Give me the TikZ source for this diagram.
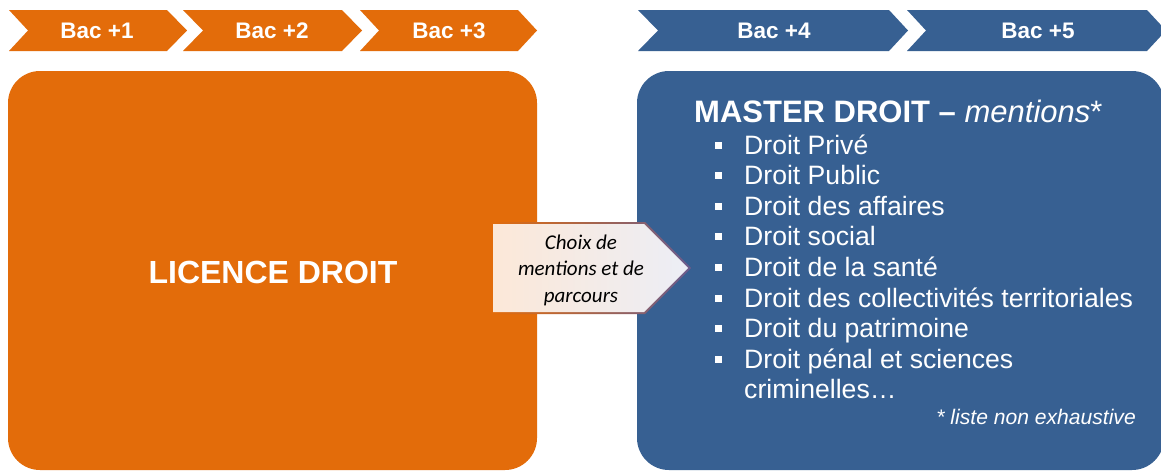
\documentclass[tikz,border=0pt]{standalone}
\usepackage{fontspec}
\setmainfont{Liberation Sans}
\newfontfamily\calfont{Carlito}
\definecolor{orangeM}{HTML}{E36C0A}
\definecolor{blueM}{HTML}{376092}
\definecolor{peach}{HTML}{FCE8D8}
\definecolor{lav}{HTML}{ECEEF6}
\definecolor{bordR}{HTML}{6A5C8E}
\tikzset{
  bactext/.style={text=white, font=\fontsize{22.5}{26}\selectfont\bfseries, inner sep=0pt},
  item/.style={anchor=base west, text=white, font=\fontsize{26.6}{31}\selectfont, inner sep=0pt},
  bul/.style={fill=white, minimum size=7pt, inner sep=0pt, draw=none},
}
\begin{document}
\begin{tikzpicture}[x=1pt,y=-1pt]
\clip (0,0) rectangle (1161,472);
\fill[white] (0,0) rectangle (1161,472);
% chevrons
\fill[orangeM] (9,10) -- (167,10) -- (187,30.5) -- (167,51) -- (9,51) -- (28,30.5) -- cycle;
\fill[orangeM] (183,10) -- (342,10) -- (362,30.5) -- (342,51) -- (183,51) -- (203,30.5) -- cycle;
\fill[orangeM] (360,10) -- (518,10) -- (537,30.5) -- (518,51) -- (360,51) -- (379,30.5) -- cycle;
\fill[blueM] (638,10) -- (889,10) -- (908,30.5) -- (889,51) -- (638,51) -- (658,30.5) -- cycle;
\fill[blueM] (907,10) -- (1147,10) -- (1166,30.5) -- (1147,51) -- (907,51) -- (926,30.5) -- cycle;
\node[bactext] (b1) at (97,31) {Bac +1};
\node[bactext] (b2) at (272,31) {Bac +2};
\node[bactext] (b3) at (449,31) {Bac +3};
\node[bactext] (b4) at (774,31) {Bac +4};
\node[bactext] (b5) at (1038,31) {Bac +5};
% big boxes
\fill[orangeM, rounded corners=32pt] (8,71) rectangle (537,470);
\fill[blueM, rounded corners=32pt] (637,71) rectangle (1164,470);
\node[text=white, font=\fontsize{32}{38}\selectfont\bfseries, inner sep=0pt] (lic) at (273,272) {LICENCE DROIT};
% middle arrow
\shade[left color=orangeM, right color=bordR] (491,222) -- (645,222) -- (691,268) -- (645,314) -- (491,314) -- cycle;
\shade[left color=peach, right color=lav] (493,224) -- (644,224) -- (688,268) -- (644,312) -- (493,312) -- cycle;
\node[align=center, font=\calfont\itshape\fontsize{21}{26.5}\selectfont, text=black, inner sep=0pt] (choix) at (581,270) {Choix de\\mentions et de\\parcours};
% master title
\node[anchor=base west, text=white, inner sep=0pt, font=\fontsize{31}{36}\selectfont] (title) at (694,122) {\textbf{MASTER DROIT} \textbf{–} \textit{mentions}*};
% items
\node[item] (i1) at (744,154) {Droit Privé};
\node[item] (i2) at (744,184.6) {Droit Public};
\node[item] (i3) at (744,215.2) {Droit des affaires};
\node[item] (i4) at (744,245.8) {Droit social};
\node[item] (i5) at (744,276.4) {Droit de la santé};
\node[item] (i6) at (744,307) {Droit des collectivités territoriales};
\node[item] (i7) at (744,337.6) {Droit du patrimoine};
\node[item] (i8) at (744,368.2) {Droit pénal et sciences};
\node[item] (i9) at (744,398.8) {criminelles…};
\foreach \y [count=\k] in {154,184.6,215.2,245.8,276.4,307,337.6,368.2}
  \node[bul] (bu\k) at (718,\y-9) {};
\node[anchor=base east, text=white, font=\fontsize{21.1}{25}\selectfont\itshape, inner sep=0pt] (note) at (1136,424) {* liste non exhaustive};
\end{tikzpicture}
\end{document}
